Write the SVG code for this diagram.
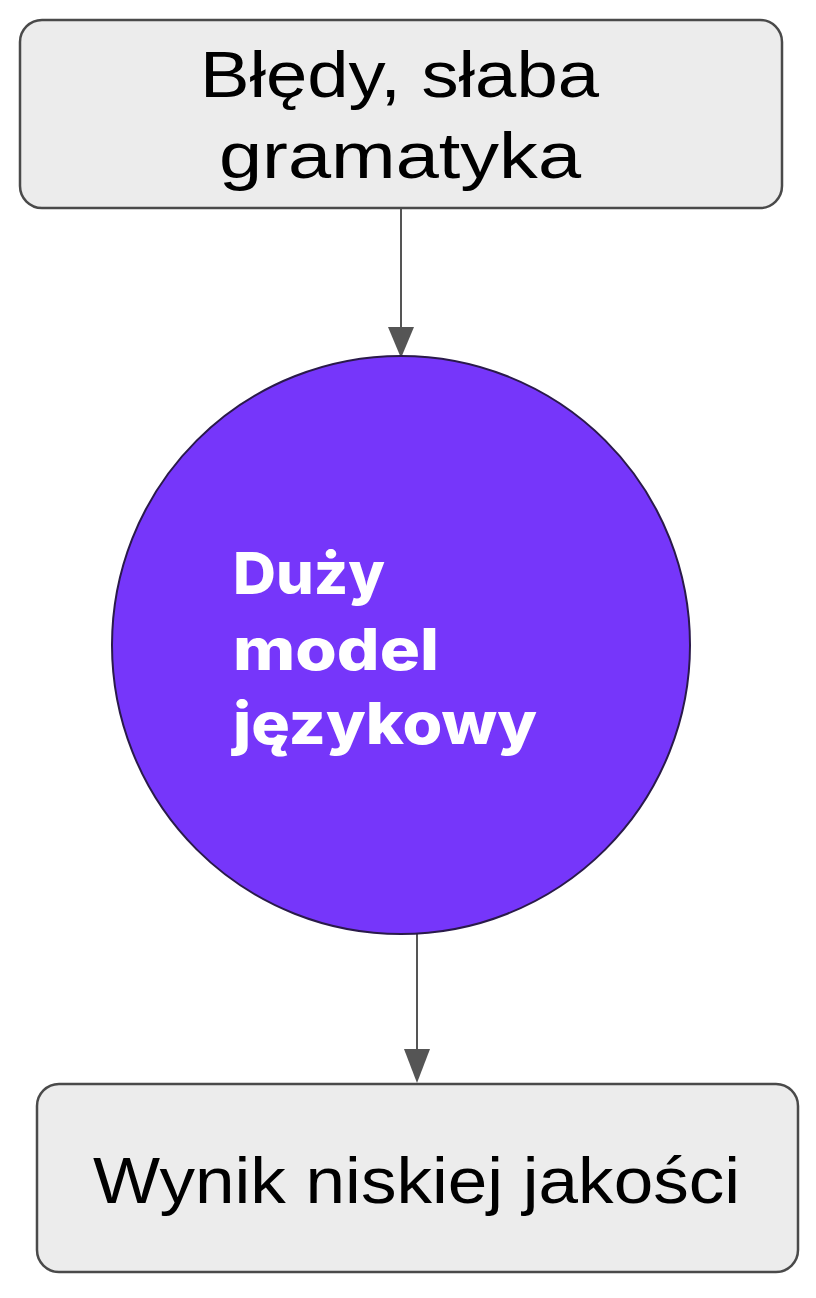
<svg xmlns="http://www.w3.org/2000/svg" width="816" height="1298" viewBox="0 0 816 1298">
<style>
.box{fill:#ececec;stroke:#4a4a4a;stroke-width:2.5}
.lbl{font-family:"Liberation Sans",Arial,sans-serif;font-size:64px;fill:#000}
.in{font-family:Inter,"Open Sans",sans-serif;font-weight:800;font-size:58px;fill:#fff}
.edge{stroke:#555;stroke-width:2;fill:none}
.head{fill:#555}
</style>
<rect width="816" height="1298" fill="#ffffff"/>
<g id="connectors">
<line class="edge" x1="401" y1="208" x2="401" y2="328"/>
<path class="head" d="M388,327 L414,327 L401,358 Z"/>
<line class="edge" x1="417" y1="932" x2="417" y2="1050"/>
<path class="head" d="M404,1049 L430,1049 L417,1083 Z"/>
</g>
<g id="node-input">
<rect class="box" x="20" y="20" width="762" height="188" rx="22"/>
<text class="lbl" x="200" y="97" textLength="399" lengthAdjust="spacingAndGlyphs">Błędy, słaba</text>
<text class="lbl" x="219" y="178" textLength="362" lengthAdjust="spacingAndGlyphs">gramatyka</text>
</g>
<g id="node-llm">
<circle cx="401" cy="645" r="289" fill="#7636fa" stroke="#2a1a4a" stroke-width="2"/>
<text class="in" x="233" y="594" textLength="152" lengthAdjust="spacingAndGlyphs">Duży</text>
<text class="in" x="233" y="670" textLength="206" lengthAdjust="spacingAndGlyphs">model</text>
<text class="in" x="233" y="744" textLength="304" lengthAdjust="spacingAndGlyphs">językowy</text>
</g>
<g id="node-output">
<rect class="box" x="37" y="1084" width="761" height="188" rx="22"/>
<text class="lbl" x="93" y="1203" font-size="66" textLength="647" lengthAdjust="spacingAndGlyphs">Wynik niskiej jakości</text>
</g>
</svg>
